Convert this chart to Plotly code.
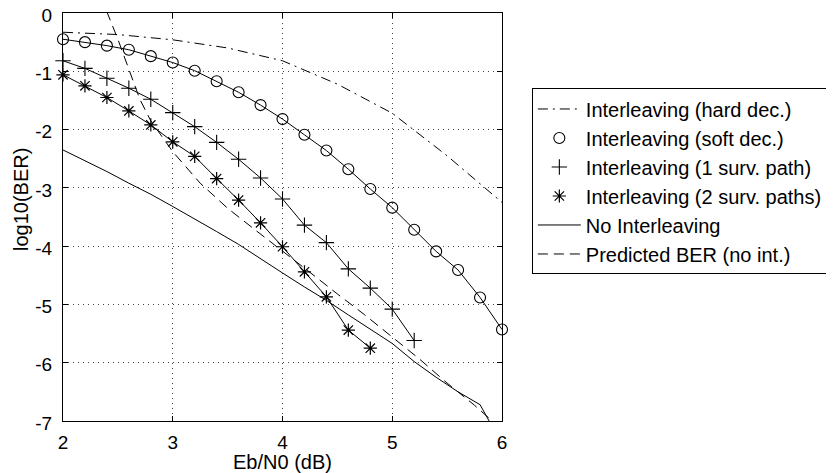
import plotly.graph_objects as go

# ---- data ----
x_hard = [2.0, 2.5, 3.0, 3.5, 4.0, 4.5, 5.0, 5.5, 6.0]
y_hard = [-0.33, -0.37, -0.46, -0.60, -0.82, -1.22, -1.72, -2.45, -3.25]

x_soft = [2.0, 2.2, 2.4, 2.6, 2.8, 3.0, 3.2, 3.4, 3.6, 3.8, 4.0, 4.2, 4.4, 4.6, 4.8, 5.0, 5.2, 5.4, 5.6, 5.8, 6.0]
y_soft = [-0.45, -0.50, -0.56, -0.63, -0.74, -0.85, -0.99, -1.17, -1.36, -1.58, -1.82, -2.09, -2.36, -2.68, -3.02, -3.34, -3.72, -4.09, -4.41, -4.88, -5.43]

x_one = [2.0, 2.2, 2.4, 2.6, 2.8, 3.0, 3.2, 3.4, 3.6, 3.8, 4.0, 4.2, 4.4, 4.6, 4.8, 5.0, 5.2]
y_one = [-0.82, -0.95, -1.12, -1.29, -1.48, -1.71, -1.95, -2.22, -2.51, -2.83, -3.19, -3.64, -3.94, -4.39, -4.72, -5.08, -5.62]

x_two = [2.0, 2.2, 2.4, 2.6, 2.8, 3.0, 3.2, 3.4, 3.6, 3.8, 4.0, 4.2, 4.4, 4.6, 4.8]
y_two = [-1.06, -1.25, -1.45, -1.68, -1.92, -2.21, -2.46, -2.84, -3.21, -3.60, -4.01, -4.44, -4.87, -5.44, -5.75]

x_noint = [2.0, 2.2, 2.4, 2.6, 2.8, 3.0, 3.2, 3.4, 3.6, 3.8, 4.0, 4.2, 4.4, 4.6, 4.8, 5.0, 5.2, 5.4, 5.6, 5.8, 6.0]
y_noint = [-2.35, -2.53, -2.72, -2.92, -3.11, -3.32, -3.53, -3.75, -3.97, -4.22, -4.46, -4.70, -4.93, -5.18, -5.42, -5.67, -5.98, -6.25, -6.50, -6.72, -7.40]

x_pred = [2.3, 2.4, 2.5, 2.6, 2.7, 2.8, 2.9, 3.0, 3.25, 3.5, 3.75, 4.0, 4.25, 4.5, 4.75, 5.0, 5.25, 5.5, 5.75, 6.0]
y_pred = [0.55, 0.02, -0.45, -0.98, -1.48, -1.85, -2.12, -2.38, -2.92, -3.35, -3.72, -4.08, -4.45, -4.82, -5.18, -5.56, -5.94, -6.35, -6.73, -7.15]

names = ["Interleaving (hard dec.)", "Interleaving (soft dec.)", "Interleaving (1 surv. path)",
         "Interleaving (2 surv. paths)", "No Interleaving", "Predicted BER (no int.)"]

x_ticks = [2, 3, 4, 5, 6]
y_ticks = [-7, -6, -5, -4, -3, -2, -1, 0]

FONT = "Liberation Sans, Arial, Helvetica, sans-serif"
LINE = dict(color="black", width=1)

fig = go.Figure()

# connecting lines of the marker series (not in legend)
for xs, ys in [(x_soft, y_soft), (x_one, y_one), (x_two, y_two)]:
    fig.add_trace(go.Scatter(x=xs, y=ys, mode="lines", line=LINE, showlegend=False, hoverinfo="skip"))

fig.add_trace(go.Scatter(x=x_hard, y=y_hard, mode="lines", name=names[0],
                         line=dict(color="black", width=1, dash="10px,5px,2px,5px")))
fig.add_trace(go.Scatter(x=x_soft, y=y_soft, mode="markers", name=names[1], cliponaxis=False,
                         marker=dict(symbol="circle-open", size=11, color="black", line=dict(width=1.1))))
fig.add_trace(go.Scatter(x=x_one, y=y_one, mode="markers", name=names[2], cliponaxis=False,
                         marker=dict(symbol="cross-thin-open", size=11, color="black", line=dict(width=1.1, color="black"))))
fig.add_trace(go.Scatter(x=x_two, y=y_two, mode="markers", name=names[3], cliponaxis=False,
                         marker=dict(symbol="asterisk-open", size=11, color="black", line=dict(width=1.2, color="black"))))
fig.add_trace(go.Scatter(x=x_noint, y=y_noint, mode="lines", name=names[4], line=LINE))
fig.add_trace(go.Scatter(x=x_pred, y=y_pred, mode="lines", name=names[5],
                         line=dict(color="black", width=1, dash="10px,6px")))

axis_common = dict(
    showline=True, mirror="ticks", linecolor="black", linewidth=1,
    ticks="inside", ticklen=5, tickcolor="black", tickwidth=1,
    showgrid=True, gridcolor="#444", gridwidth=1, griddash="1px,4px",
    zeroline=False, tickfont=dict(size=19, color="black", family=FONT),
    automargin=False, ticklabeloverflow="allow",
)

fig.update_xaxes(range=[2, 6], tickvals=x_ticks, ticktext=[str(v) for v in x_ticks],
                 title=dict(text="Eb/N0 (dB)", font=dict(size=20, color="black", family=FONT), standoff=0),
                 ticklabelstandoff=4, **axis_common)
fig.update_yaxes(range=[-7, 0], tickvals=y_ticks, ticktext=[("-" if v < 0 else "") + str(abs(v)) for v in y_ticks],
                 ticklabelstandoff=6, ticklabelshift=2, **axis_common)

# y-axis title placed as in the reference (slightly above plot centre), kept inside the figure
fig.add_annotation(text="log10(BER)", xref="paper", yref="paper", x=-0.1253, y=0.544,
                   xanchor="left", yanchor="middle", textangle=-90, showarrow=False,
                   font=dict(size=20, color="black", family=FONT))

# the page body keeps its default 8px margin, so the figure is 8px smaller and margins shifted
fig.update_layout(
    width=826, height=465,
    margin=dict(l=55, r=332, t=5, b=52),
    paper_bgcolor="white", plot_bgcolor="white",
    font=dict(family=FONT, color="black"),
    legend=dict(x=1.068, y=0.815, xanchor="left", yanchor="top",
                bordercolor="black", borderwidth=1, bgcolor="white",
                font=dict(size=20, family=FONT, color="black"),
                itemwidth=43, tracegroupgap=0),
    showlegend=True,
)

fig.write_html("out.html", config={"displayModeBar": False})
